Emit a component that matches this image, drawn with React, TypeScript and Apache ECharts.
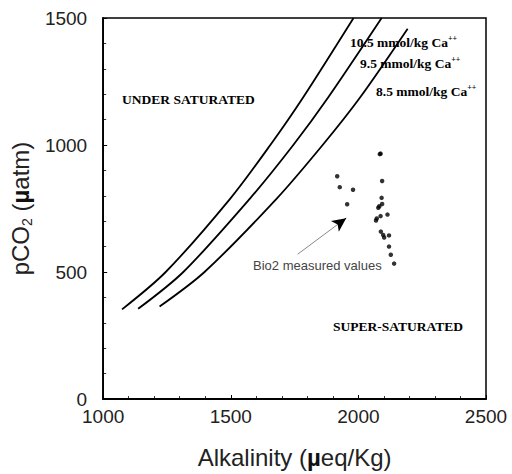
import React, { useEffect, useRef } from "react";
import * as echarts from "echarts";

// Saturation curves (alkalinity µeq/kg, pCO2 µatm)
const curve105: [number, number][] = [
  [1074, 353], [1245, 500], [1498, 789], [1655, 1000], [1782, 1185], [1981, 1500],
];
const curve95: [number, number][] = [
  [1137, 355], [1314, 500], [1575, 789], [1745, 1000], [1880, 1185], [2091, 1500],
];
const curve85: [number, number][] = [
  [1221, 364], [1397, 500], [1680, 789], [1860, 1000], [2005, 1185], [2193, 1458],
];

// Bio2 measured values
const bio2Points: [number, number][] = [
  [1917, 877], [1927, 834], [1979, 824], [1956, 767],
  [2084, 964], [2087, 966], [2093, 858], [2091, 792], [2093, 768], [2082, 759], [2078, 753],
  [2087, 720], [2114, 726], [2072, 711], [2069, 703], [2088, 659], [2097, 646],
  [2101, 636], [2120, 644], [2120, 600], [2127, 568], [2140, 533],
];

const arrowStart: [number, number] = [1762, 570];
const arrowTip: [number, number] = [1952, 712];
const arrowHeadFrom: [number, number] = [1925, 692];

const xTicks = [1000, 1500, 2000, 2500];
const yTicks = [0, 500, 1000, 1500];

const serif = "'Liberation Serif', 'Times New Roman', serif";
const sans = "'Liberation Sans', Arial, Helvetica, sans-serif";

export default function App() {
  const ref = useRef<HTMLDivElement>(null);
  useEffect(() => {
    if (!ref.current) return;
    const chart = echarts.init(ref.current, null, { renderer: "svg" });
    const curveSeries = (name: string, data: [number, number][]) => ({
      name,
      type: "line",
      data,
      smooth: 0.3,
      showSymbol: false,
      symbol: "none",
      lineStyle: { color: "#000", width: 1.8 },
      silent: true,
    });
    const caLabel = (v: string) => `{a|${v} mmol/kg Ca}{s|++}`;
    const caRich = {
      a: { fontFamily: serif, fontWeight: "bold", fontSize: 13.5, fill: "#000", lineHeight: 16 },
      s: { fontFamily: serif, fontWeight: "bold", fontSize: 8, fill: "#000", verticalAlign: "top", lineHeight: 16 },
    };
    chart.setOption({
      animation: false,
      backgroundColor: "#fff",
      grid: {
        left: 99,
        right: 26,
        top: 18,
        bottom: 71,
        show: true,
        borderColor: "#000",
        borderWidth: 1.5,
        backgroundColor: "transparent",
      },
      xAxis: {
        type: "value",
        min: 1000,
        max: 2500,
        interval: 500,
        name: "{a|Alkalinity (}{mu|µ}{a|eq/Kg)}",
        nameLocation: "middle",
        nameGap: 46,
        nameTextStyle: {
          rich: {
            a: { fontFamily: sans, fontSize: 24, color: "#222" },
            mu: { fontFamily: sans, fontSize: 24, fontWeight: "bold", color: "#111" },
          },
        },
        axisLine: { lineStyle: { color: "#000", width: 1.8 } },
        axisTick: { inside: true, length: 4, lineStyle: { color: "#000", width: 1 } },
        minorTick: { show: true, splitNumber: 5, length: 3, lineStyle: { color: "#000", width: 0.8 } },
        splitLine: { show: false },
        axisLabel: {
          margin: 8,
          fontFamily: sans,
          fontSize: 19,
          color: "#222",
          formatter: (v: number) => (xTicks.includes(v) ? String(v) : ""),
        },
      },
      yAxis: {
        type: "value",
        min: 0,
        max: 1500,
        interval: 500,
        name: "{a|pCO}{s|2}{a| (}{mu|µ}{a|atm)}",
        nameLocation: "middle",
        nameGap: 68,
        nameTextStyle: {
          rich: {
            a: { fontFamily: sans, fontSize: 24, color: "#222", lineHeight: 28 },
            s: { fontFamily: sans, fontSize: 14, color: "#222", verticalAlign: "bottom", lineHeight: 28 },
            mu: { fontFamily: sans, fontSize: 24, fontWeight: "bold", color: "#111", lineHeight: 28 },
          },
        },
        axisLine: { lineStyle: { color: "#000", width: 1.8 } },
        axisTick: { inside: true, length: 4, lineStyle: { color: "#000", width: 1 } },
        minorTick: { show: true, splitNumber: 5, length: 3, lineStyle: { color: "#000", width: 0.8 } },
        splitLine: { show: false },
        axisLabel: {
          margin: 16,
          fontFamily: sans,
          fontSize: 19,
          color: "#222",
          formatter: (v: number) => (yTicks.includes(v) ? String(v) : ""),
        },
      },
      series: [
        curveSeries("10.5 mmol/kg Ca++", curve105),
        curveSeries("9.5 mmol/kg Ca++", curve95),
        curveSeries("8.5 mmol/kg Ca++", curve85),
        {
          name: "Bio2 measured values",
          type: "scatter",
          data: bio2Points,
          symbol: "circle",
          symbolSize: 4.5,
          itemStyle: { color: "#000" },
          silent: true,
        },
        {
          type: "scatter",
          data: [],
          silent: true,
          markLine: {
            silent: true,
            symbol: ["none", "none"],
            label: { show: false },
            lineStyle: { color: "#888", width: 1, type: "solid" },
            data: [[{ coord: arrowStart }, { coord: arrowTip }]],
          },
        },
        {
          type: "scatter",
          data: [],
          silent: true,
          markLine: {
            silent: true,
            symbol: ["none", "arrow"],
            symbolSize: [10, 14],
            label: { show: false },
            lineStyle: { color: "#000", width: 1, type: "solid" },
            data: [[{ coord: arrowHeadFrom }, { coord: arrowTip }]],
          },
        },
      ],
      graphic: [
        {
          type: "text",
          x: 122,
          y: 99,
          style: {
            text: "UNDER SATURATED",
            fontFamily: serif,
            fontWeight: "bold",
            fontSize: 13.5,
            fill: "#000",
            verticalAlign: "middle",
          },
        },
        {
          type: "text",
          x: 333,
          y: 326,
          style: {
            text: "SUPER-SATURATED",
            fontFamily: serif,
            fontWeight: "bold",
            fontSize: 13.5,
            fill: "#000",
            verticalAlign: "middle",
          },
        },
        {
          type: "text",
          x: 350,
          y: 42,
          style: { text: caLabel("10.5"), rich: caRich, verticalAlign: "middle" },
        },
        {
          type: "text",
          x: 360,
          y: 63,
          style: { text: caLabel("9.5"), rich: caRich, verticalAlign: "middle" },
        },
        {
          type: "text",
          x: 376,
          y: 91,
          style: { text: caLabel("8.5"), rich: caRich, verticalAlign: "middle" },
        },
        {
          type: "text",
          x: 253,
          y: 265,
          style: {
            text: "Bio2 measured values",
            fontFamily: sans,
            fontSize: 13,
            fill: "#444",
            verticalAlign: "middle",
          },
        },
      ],
    });
    return () => chart.dispose();
  }, []);
  return <div ref={ref} style={{ width: 512, height: 474, position: "absolute", left: 0, top: 0 }} />;
}
